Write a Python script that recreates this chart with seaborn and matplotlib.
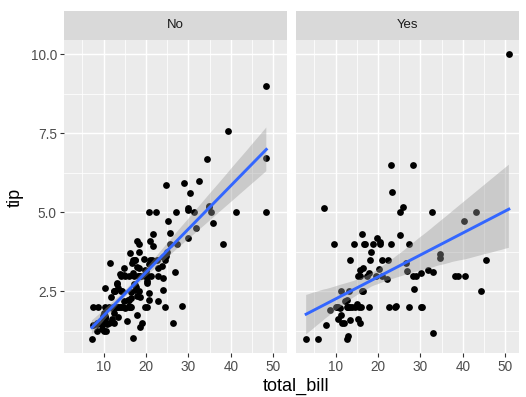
import numpy as np
import pandas as pd
import seaborn as sns
import matplotlib.pyplot as plt
from matplotlib.ticker import MultipleLocator, FormatStrFormatter

# tips data, split by smoker
bill_no = [16.99, 10.34, 21.01, 23.68, 24.59, 25.29, 8.77, 26.88, 15.04, 14.78,
           10.27, 35.26, 15.42, 18.43, 14.83, 21.58, 10.33, 16.29, 16.97, 20.65,
           17.92, 20.29, 15.77, 39.42, 19.82, 17.81, 13.37, 12.69, 21.7, 19.65,
           9.55, 18.35, 15.06, 20.69, 17.78, 24.06, 16.31, 16.93, 18.69, 31.27,
           16.04, 17.46, 13.94, 9.68, 30.4, 18.29, 22.23, 32.4, 28.55, 18.04,
           12.54, 10.29, 34.81, 9.94, 25.56, 19.49, 26.41, 48.27, 17.59, 20.08,
           16.45, 20.23, 12.02, 17.07, 14.73, 10.51, 27.2, 22.76, 17.29, 16.66,
           10.07, 15.98, 34.83, 13.03, 18.28, 24.71, 21.16, 22.49, 22.75, 12.46,
           20.92, 18.24, 14.0, 7.25, 38.07, 23.95, 25.71, 17.31, 29.93, 10.65,
           12.43, 24.08, 11.69, 13.42, 14.26, 15.95, 12.48, 29.8, 8.52, 14.52,
           11.38, 22.82, 19.08, 20.27, 11.17, 12.26, 18.26, 8.51, 10.33, 14.15,
           13.16, 17.47, 34.3, 41.19, 27.05, 16.43, 8.35, 18.64, 11.87, 9.78,
           7.51, 14.07, 13.13, 17.26, 24.55, 19.77, 29.85, 48.17, 25.0, 13.39,
           16.49, 21.5, 12.66, 16.21, 13.81, 24.52, 20.76, 31.71, 20.69, 7.56,
           48.33, 15.98, 20.45, 13.28, 11.61, 10.77, 10.07, 35.83, 29.03, 17.82,
           18.78]
tip_no = [1.01, 1.66, 3.5, 3.31, 3.61, 4.71, 2.0, 3.12, 1.96, 3.23,
          1.71, 5.0, 1.57, 3.0, 3.02, 3.92, 1.67, 3.71, 3.5, 3.35,
          4.08, 2.75, 2.23, 7.58, 3.18, 2.34, 2.0, 2.0, 4.3, 3.0,
          1.45, 2.5, 3.0, 2.45, 3.27, 3.6, 2.0, 3.07, 2.31, 5.0,
          2.24, 2.54, 3.06, 1.32, 5.6, 3.0, 5.0, 6.0, 2.05, 3.0,
          2.5, 2.6, 5.2, 1.56, 4.34, 3.51, 1.5, 6.73, 2.64, 3.15,
          2.47, 2.01, 1.97, 3.0, 2.2, 1.25, 4.0, 3.0, 2.71, 3.4,
          1.83, 2.03, 5.17, 2.0, 4.0, 5.85, 3.0, 3.5, 3.25, 1.5,
          4.08, 3.76, 3.0, 1.0, 4.0, 2.55, 4.0, 3.5, 5.07, 1.5,
          1.8, 2.92, 2.31, 1.68, 2.5, 2.0, 2.52, 4.2, 1.48, 2.0,
          2.0, 2.18, 1.5, 2.83, 1.5, 2.0, 3.25, 1.25, 2.0, 2.0,
          2.75, 3.5, 6.7, 5.0, 5.0, 2.3, 1.5, 1.36, 1.63, 1.73,
          2.0, 2.5, 2.0, 2.74, 2.0, 2.0, 5.14, 5.0, 3.75, 2.61,
          2.0, 3.5, 2.5, 2.0, 2.0, 3.48, 2.24, 4.5, 5.0, 1.44,
          9.0, 3.0, 3.0, 2.72, 3.39, 1.47, 1.25, 4.67, 5.92, 1.75,
          3.0]

bill_yes = [38.01, 11.24, 20.29, 13.81, 11.02, 18.29, 3.07, 15.01, 26.86, 25.28,
            17.92, 19.44, 32.68, 28.97, 5.75, 16.32, 40.17, 27.28, 12.03, 21.01,
            11.35, 15.38, 44.3, 22.42, 15.36, 20.49, 25.21, 14.31, 16.0, 17.51,
            10.59, 10.63, 50.81, 15.81, 7.25, 31.85, 16.82, 32.9, 17.89, 14.48,
            9.6, 34.63, 34.65, 23.33, 45.35, 23.17, 40.55, 20.9, 30.46, 18.15,
            23.1, 15.69, 19.81, 28.44, 15.48, 16.58, 10.34, 43.11, 13.0, 13.51,
            18.71, 12.74, 13.0, 16.4, 20.53, 16.47, 26.59, 38.73, 24.27, 12.76,
            30.06, 25.89, 13.27, 28.17, 12.9, 28.15, 11.59, 7.74, 30.14, 12.16,
            13.42, 8.58, 13.42, 16.27, 10.09, 22.12, 24.01, 15.69, 15.53, 12.6,
            32.83, 27.18, 22.67]
tip_yes = [3.0, 1.76, 3.21, 2.0, 1.98, 3.76, 1.0, 2.09, 3.14, 5.0,
           3.08, 3.0, 5.0, 3.0, 1.0, 4.3, 4.73, 4.0, 1.5, 3.0,
           2.5, 3.0, 2.5, 3.48, 1.64, 4.06, 4.29, 4.0, 2.0, 3.0,
           1.61, 2.0, 10.0, 3.16, 5.15, 3.18, 4.0, 3.11, 2.0, 2.0,
           4.0, 3.55, 3.68, 5.65, 3.5, 6.5, 3.0, 3.5, 2.0, 3.5,
           4.0, 1.5, 4.19, 2.56, 2.02, 4.0, 2.0, 5.0, 2.0, 2.0,
           4.0, 2.01, 2.0, 2.5, 4.0, 3.23, 3.41, 3.0, 2.03, 2.23,
           2.0, 5.16, 2.5, 6.5, 1.1, 3.0, 1.5, 1.44, 3.09, 2.2,
           3.48, 1.92, 1.58, 2.5, 2.0, 2.88, 2.0, 3.0, 3.0, 1.0,
           1.17, 2.0, 2.0]

smoker_levels = ["No", "Yes"]
x_ticks = [10, 20, 30, 40, 50]
y_ticks = [2.5, 5.0, 7.5, 10.0]

tips = pd.concat([
    pd.DataFrame({"total_bill": bill_no, "tip": tip_no, "smoker": "No"}),
    pd.DataFrame({"total_bill": bill_yes, "tip": tip_yes, "smoker": "Yes"}),
])

plt.rcParams["font.family"] = ["Liberation Sans", "DejaVu Sans"]

W, H = 526, 397
fig = plt.figure(figsize=(W / 100, H / 100), dpi=100)

panel_left = [64, 296]
panel_w = 223
panel_top, panel_bottom = 40, 353
strip_top = 11

for i, level in enumerate(smoker_levels):
    ax = fig.add_axes([panel_left[i] / W, (H - panel_bottom) / H,
                       panel_w / W, (panel_bottom - panel_top) / H])
    ax.set_facecolor("#EBEBEB")
    sub = tips[tips["smoker"] == level]
    sns.regplot(data=sub, x="total_bill", y="tip", ax=ax, seed=0,
                scatter_kws={"s": 24, "color": "black", "linewidths": 0, "alpha": 1},
                line_kws={"color": "#3366FF", "lw": 2.1})
    # grey ribbon like ggplot
    for coll in ax.collections[1:]:
        coll.set_facecolor((0.6, 0.6, 0.6))
        coll.set_alpha(0.4)
        coll.set_edgecolor("none")

    ax.set_xlim(0.68, 53.2)
    ax.set_ylim(0.55, 10.45)
    ax.set_xticks(x_ticks)
    ax.set_yticks(y_ticks)
    ax.xaxis.set_minor_locator(MultipleLocator(5))
    ax.yaxis.set_minor_locator(MultipleLocator(1.25))
    ax.yaxis.set_major_formatter(FormatStrFormatter("%.1f"))
    ax.set_axisbelow(True)
    ax.grid(which="major", color="white", lw=1.05)
    ax.grid(which="minor", color="white", lw=0.55)
    for s in ax.spines.values():
        s.set_visible(False)
    ax.tick_params(which="minor", length=0)
    ax.tick_params(which="major", length=3.2, width=0.8, color="#333333",
                   labelcolor="#4D4D4D", labelsize=9.8, pad=2)
    ax.set_xlabel("")
    ax.set_ylabel("")
    if i == 1:
        ax.tick_params(axis="y", left=False, labelleft=False)

    # facet strip
    sax = fig.add_axes([panel_left[i] / W, (H - panel_top) / H,
                        panel_w / W, (panel_top - strip_top) / H])
    sax.set_facecolor("#D9D9D9")
    sax.set_xticks([])
    sax.set_yticks([])
    for s in sax.spines.values():
        s.set_visible(False)
    sax.text(0.5, 0.5, level, ha="center", va="center", fontsize=9.5,
             color="#1A1A1A", transform=sax.transAxes)

fig.text(296 / W, (H - 386) / H, "total_bill", ha="center",
         va="center", fontsize=13, color="black")
fig.text(15 / W, (H - 197) / H, "tip", ha="center", va="center",
         rotation=90, fontsize=13, color="black")

fig.savefig("out.png", dpi=100)
